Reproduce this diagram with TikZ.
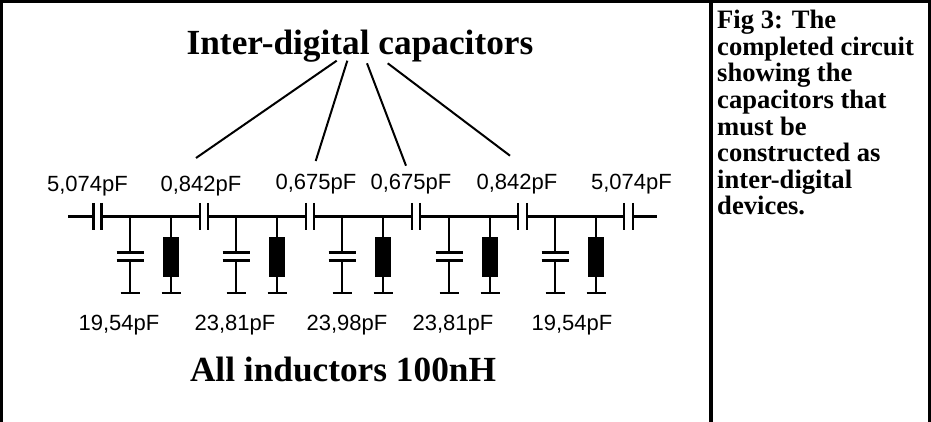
\documentclass[tikz,border=0pt]{standalone}
\usepackage{fontspec}
\setmainfont{Liberation Serif}
\newfontfamily\valuefont{Liberation Sans}
\tikzset{
  wire/.style={line width=2.8pt},
  frameline/.style={line width=3.4pt},
  leader/.style={line width=2pt},
  coil/.style={draw,fill=black,line width=1pt,minimum width=15pt,minimum height=39pt,inner sep=0pt},
  value/.style={font=\valuefont\fontsize{22}{26}\selectfont,inner sep=0pt,anchor=base},
  heading/.style={font=\bfseries\fontsize{35.3}{42}\selectfont,inner sep=0pt,anchor=base},
}
% one series capacitor, #1 = left plate x, #2 = right plate x
\newcommand{\seriescap}[2]{
\draw[wire] (#1,203) -- (#1,229.5);
\draw[wire] (#2,203) -- (#2,229.5);
}
% one shunt capacitor and one coil, #1 = capacitor x, #2 = coil x, #3 = name
\newcommand{\shuntpair}[3]{
\coordinate (captop#3) at (#1,216.7);
\coordinate (capa#3) at (#1,252.7);
\coordinate (capb#3) at (#1,260.7);
\coordinate (capgnd#3) at (#1,293);
\draw[wire] (captop#3) -- (capa#3);
\draw[wire] (capb#3) -- (capgnd#3);
\draw[wire] (#1-13.5,252.7) -- (#1+13.5,252.7);
\draw[wire] (#1-13.5,260.7) -- (#1+13.5,260.7);
\draw[wire] (#1-9.5,293) -- (#1+9.5,293);
\node[coil] (coil#3) at (#2,257) {};
\coordinate (coiltop#3) at (#2,216.7);
\coordinate (coilgnd#3) at (#2,293);
\draw[wire] (coiltop#3) -- (coil#3);
\draw[wire] (coil#3) -- (coilgnd#3);
\draw[wire] (#2-9.5,293) -- (#2+9.5,293);
}
\begin{document}
\begin{tikzpicture}[x=1pt,y=-1pt]
\useasboundingbox (0,0) rectangle (931,422);
% frame
\draw[frameline] (1.5,422) -- (1.5,1.7) -- (929.5,1.7) -- (929.5,422);
\draw[frameline] (711,1.7) -- (711,422);

% main line
\draw[wire] (68,216.7) -- (93.3,216.7);
\draw[wire] (101.7,216.7) -- (200,216.7);
\draw[wire] (208,216.7) -- (306,216.7);
\draw[wire] (314,216.7) -- (412,216.7);
\draw[wire] (420,216.7) -- (518,216.7);
\draw[wire] (527,216.7) -- (624,216.7);
\draw[wire] (633,216.7) -- (657,216.7);
\seriescap{93.3}{101.7}
\seriescap{200}{208}
\seriescap{306}{314}
\seriescap{412}{420}
\seriescap{518}{527}
\seriescap{624}{633}

\shuntpair{130}{171}{a}
\shuntpair{236}{277}{b}
\shuntpair{342}{383}{c}
\shuntpair{449}{490}{d}
\shuntpair{555}{596}{e}

% values
\node[value] (csa) at (87.5,191.7) {5,074pF};
\node[value] (csb) at (201,191.7) {0,842pF};
\node[value] (csc) at (316,189.3) {0,675pF};
\node[value] (csd) at (411,189.3) {0,675pF};
\node[value] (cse) at (517,189.3) {0,842pF};
\node[value] (csf) at (631.5,189.3) {5,074pF};
\node[value] (cpa) at (119,330) {19,54pF};
\node[value] (cpb) at (235,330) {23,81pF};
\node[value] (cpc) at (347,330) {23,98pF};
\node[value] (cpd) at (453,330) {23,81pF};
\node[value] (cpe) at (572,330) {19,54pF};

% headings
\node[heading] (title) at (360,55) {Inter-digital capacitors};
\node[heading] (inductors) at (343,381.7) {All inductors 100nH};
\coordinate (starta) at (336.7,60.7);
\coordinate (startb) at (347.3,60.7);
\coordinate (startc) at (367,63.3);
\coordinate (startd) at (387.7,63.3);
\coordinate (enda) at (196,158);
\coordinate (endb) at (315.7,161);
\coordinate (endc) at (406,165.7);
\coordinate (endd) at (510,155.7);
\draw[leader] (starta) -- (enda);
\draw[leader] (startb) -- (endb);
\draw[leader] (startc) -- (endc);
\draw[leader] (startd) -- (endd);

% side text
\node[anchor=north west,inner sep=0pt,align=left,font=\bfseries\fontsize{26.6}{26.6}\selectfont] (caption) at (717,10)
{Fig 3: The\\completed circuit\\showing the\\capacitors that\\must be\\constructed as\\inter-digital\\devices.};
\end{tikzpicture}
\end{document}
